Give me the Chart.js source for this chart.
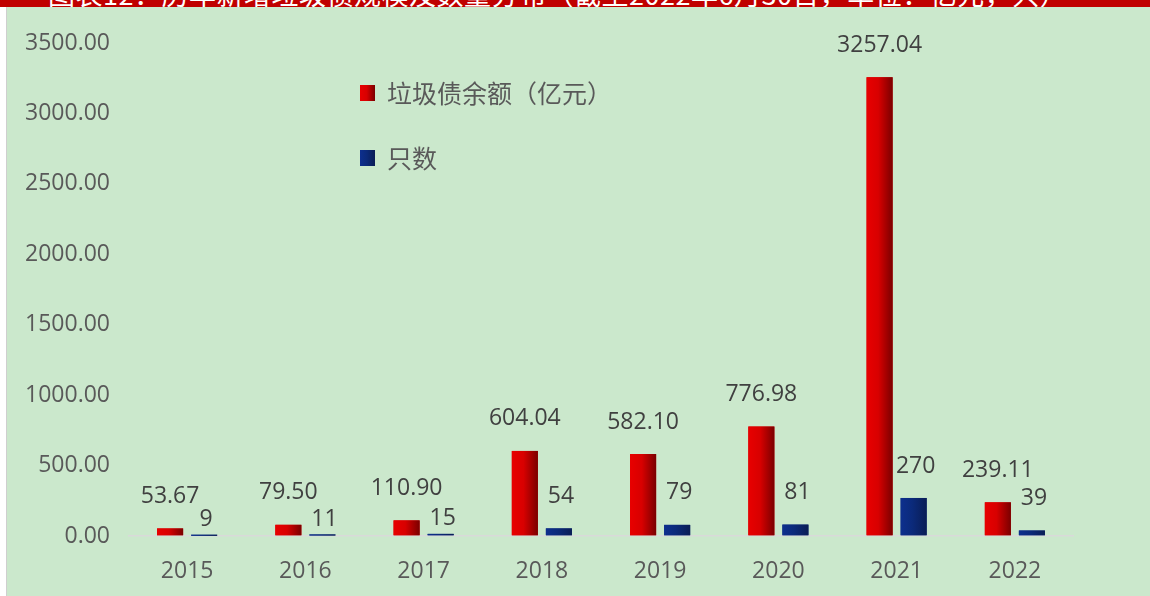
<!DOCTYPE html>
<html>
<head>
<meta charset="utf-8">
<script src="https://cdn.jsdelivr.net/npm/chart.js@4/dist/chart.umd.min.js"></script>
<style>
  html, body { margin: 0; padding: 0; background: #ffffff; }
  #wrap { position: relative; width: 1150px; height: 596px; overflow: hidden; background: #ffffff; }
  #green { position: absolute; left: 6px; top: 7px; right: 0; bottom: 0; background: #cbe8cc; border-left: 1px solid #cfcfcf; }
  #band { position: absolute; left: 0; top: 0; width: 1150px; height: 7px; background: #c00000; overflow: hidden; }
  #band span { position: absolute; left: 48px; top: -26px; color: #ffffff; font: 27px 'Noto Sans CJK SC', sans-serif; white-space: nowrap; letter-spacing: 0.5px; }
  #c { position: absolute; left: 0; top: 0; }
</style>
</head>
<body>
<div id="wrap">
  <div id="green"></div>
  <div id="band"><span>图表12：历年新增垃圾债规模及数量分布（截至2022年6月30日，单位：亿元，只）</span></div>
  <canvas id="c" width="1150" height="596"></canvas>
</div>
<script>
const categories = ['2015', '2016', '2017', '2018', '2019', '2020', '2021', '2022'];
const balance = [53.67, 79.50, 110.90, 604.04, 582.10, 776.98, 3257.04, 239.11];
const counts = [9, 11, 15, 54, 79, 81, 270, 39];
const seriesNames = ['垃圾债余额（亿元）', '只数'];
const yMin = 0, yMax = 3500, yStep = 500;

const fontFamily = "'Open Sans', 'Noto Sans CJK SC', sans-serif";
Chart.defaults.font.family = fontFamily;

const gradients = [
  ['#e80000', '#d80000', '#7a0000'],
  ['#0d2f8e', '#0b2a7a', '#0a1d55']
];

function makeGrad(ctx, x0, x1, stops) {
  const g = ctx.createLinearGradient(x0, 0, x1, 0);
  g.addColorStop(0, stops[0]);
  g.addColorStop(0.45, stops[1]);
  g.addColorStop(1, stops[2]);
  return g;
}

const overlayPlugin = {
  id: 'overlay',
  afterDatasetsDraw(chart) {
    const ctx = chart.ctx;
    ctx.save();
    chart.data.datasets.forEach((ds, di) => {
      const meta = chart.getDatasetMeta(di);
      meta.data.forEach((el, i) => {
        const x0 = el.x - el.width / 2, x1 = el.x + el.width / 2;
        const top = Math.min(el.y, el.base), bot = Math.max(el.y, el.base);
        ctx.fillStyle = makeGrad(ctx, x0, x1, gradients[di]);
        ctx.fillRect(x0, top, x1 - x0, Math.max(bot - top, 1.2));
        const v = ds.data[i];
        const txt = di === 0 ? v.toFixed(2) : String(v);
        ctx.fillStyle = '#404040';
        ctx.font = "23px " + fontFamily;
        ctx.textAlign = 'center';
        ctx.textBaseline = 'middle';
        const off = (di === 1 && bot - top < 4) ? 15 : 32;
        ctx.fillText(txt, el.x + (di === 1 ? 2 : 0), top - off);
      });
    });
    // legend
    const lx = 360, ly = [93, 158];
    chart.data.datasets.forEach((ds, di) => {
      const cy = ly[di];
      ctx.fillStyle = makeGrad(ctx, lx, lx + 15, gradients[di]);
      ctx.fillRect(lx, cy - 8, 15, 16);
      ctx.fillStyle = '#595959';
      ctx.font = "25px 'Noto Sans CJK SC', sans-serif";
      ctx.textAlign = 'left';
      ctx.textBaseline = 'middle';
      ctx.fillText(ds.label, lx + 27, cy);
    });
    ctx.restore();
  }
};

new Chart(document.getElementById('c'), {
  type: 'bar',
  data: {
    labels: categories,
    datasets: [
      { label: seriesNames[0], data: balance, backgroundColor: '#d00000', borderWidth: 0 },
      { label: seriesNames[1], data: counts, backgroundColor: '#0b2a7a', borderWidth: 0 }
    ]
  },
  options: {
    responsive: false,
    animation: false,
    events: [],
    categoryPercentage: 0.576,
    barPercentage: 0.765,
    layout: { padding: { left: 0, right: 76, top: 43, bottom: 0 } },
    plugins: { legend: { display: false }, tooltip: { enabled: false }, title: { display: false } },
    scales: {
      x: {
        grid: { display: false },
        border: { display: false },
        ticks: { color: '#595959', font: { size: 23 }, padding: 14, maxRotation: 0 },
        afterFit(s) { s.height = 60; }
      },
      y: {
        min: yMin, max: yMax,
        border: { display: false },
        grid: {
          drawTicks: false,
          lineWidth: 1.5,
          color: c => (c.tick && c.tick.value === 0 ? '#d9d9d9' : 'rgba(0,0,0,0)')
        },
        ticks: {
          stepSize: yStep,
          color: '#595959',
          font: { size: 23 },
          padding: 18,
          callback: v => Number(v).toFixed(2)
        },
        afterFit(s) { s.width = 128; }
      }
    }
  },
  plugins: [overlayPlugin]
});
</script>
</body>
</html>
